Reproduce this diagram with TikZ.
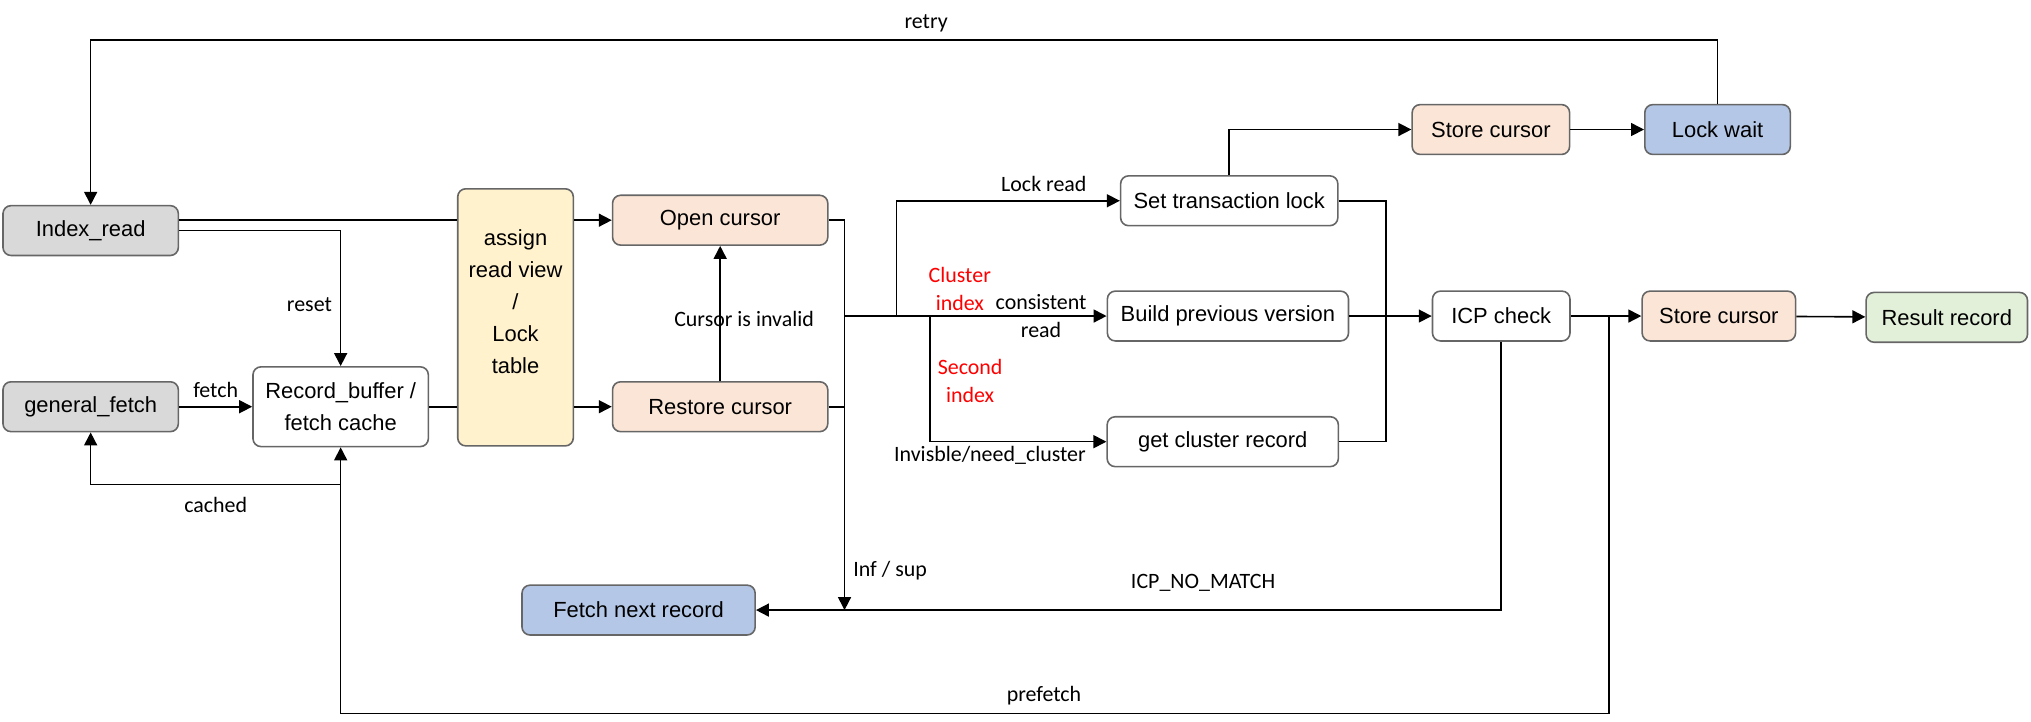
\documentclass[tikz,border=0pt]{standalone}
\usepackage{fontspec}
\setmainfont{Liberation Sans}
\newfontfamily\lblfont{Carlito}
\usetikzlibrary{arrows.meta, positioning}

\definecolor{boxgray}{HTML}{D9D9D9}
\definecolor{boxline}{HTML}{666666}
\definecolor{boxpeach}{HTML}{FBE5D6}
\definecolor{boxyellow}{HTML}{FFF2CC}
\definecolor{boxblue}{HTML}{B4C7E7}
\definecolor{boxgreen}{HTML}{E2F0D9}

\tikzset{
  box/.style={draw=boxline, line width=0.8pt, rounded corners=4pt, minimum height=25pt,
    inner sep=2pt, align=center, font=\fontsize{11}{16}\selectfont},
  lbl/.style={font=\lblfont\fontsize{11}{14}\selectfont, align=center, inner sep=1pt},
  redlbl/.style={lbl, text=red},
  arr/.style={-{Triangle[length=6.5pt, width=6.5pt]}, line width=0.8pt},
  wire/.style={line width=0.8pt},
}

\begin{document}
\begin{tikzpicture}[x=0.65pt, y=-0.65pt]
    \useasboundingbox (0,0) rectangle (1568,557);

    % left column
    \node[box, fill=boxgray, minimum width=88pt] (idx) at (70,178) {Index\_read};
    \node[box, fill=boxgray, minimum width=88pt] (genfetch) at (70,314) {general\_fetch};
    \node[box, fill=white, minimum width=88pt, minimum height=40pt] (recbuf) at (263,314) {Record\_buffer /\\fetch cache};
    \node[box, fill=boxyellow, minimum width=58pt, minimum height=129pt] (assign) at (398,245) {assign\\read view\\/\\Lock\\table\\\mbox{}};

    % cursors
    \node[box, fill=boxpeach, minimum width=108pt] (opencur) at (556,170) {Open cursor};
    \node[box, fill=boxpeach, minimum width=108pt] (restcur) at (556,314) {Restore cursor};
    \node[box, fill=boxblue, minimum width=117pt] (fetchnext) at (493,471) {Fetch next record};

    % record access
    \node[box, fill=white, minimum width=109pt] (setlock) at (949,155) {Set transaction lock};
    \node[box, fill=white, minimum width=121pt] (buildprev) at (948,244) {Build previous version};
    \node[box, fill=white, minimum width=116pt] (getclu) at (944,341) {get cluster record};
    \node[box, fill=boxpeach, minimum width=79pt] (storetop) at (1151,100) {Store cursor};
    \node[box, fill=boxblue, minimum width=73pt] (lockwait) at (1326,100) {Lock wait};
    \node[box, fill=white, minimum width=69pt] (icp) at (1159,244) {ICP check};
    \node[box, fill=boxpeach, minimum width=77pt] (storecur) at (1327,244) {Store cursor};
    \node[box, fill=boxgreen, minimum width=81pt] (result) at (1503,245) {Result record};

    % junctions
    \coordinate (top) at (0,31);
    \coordinate (cachedpt) at (263,374);
    \coordinate (prefetchpt) at (1242,244);
    \coordinate (bottom) at (0,551);
    \coordinate (infsup) at (652,471);
    \coordinate (split) at (652,244);
    \coordinate (lockfork) at (692,244);
    \coordinate (secfork) at (718,244);
    \coordinate (collect) at (1070,244);

    \draw[arr] (lockwait.north) -- (lockwait.north |- top) -- (idx.north |- top) -- (idx.north);
    \node[lbl] (retrylbl) at (715,18) {retry};

    \draw[wire] (idx.east |- opencur) -- (assign.west |- opencur);
    \draw[arr] (assign.east |- opencur) -- (opencur);
    \draw[arr] (idx.east) -| (recbuf.north) node[lbl, pos=0.75, left=3pt, yshift=-3pt] {reset};
    \draw[arr] (genfetch) -- node[lbl, above=3pt] {fetch} (recbuf);
    \draw[wire] (recbuf) -- (assign.west |- recbuf);
    \draw[arr] (assign.east |- restcur) -- (restcur);
    \draw[arr] (cachedpt) -| (genfetch.south) node[lbl, pos=0.25, below=5pt] {cached};
    \draw[arr] (prefetchpt) -- (prefetchpt |- bottom) -| (recbuf.south);
    \node[lbl] (prefetchlbl) at (806,537) {prefetch};

    \draw[arr] (restcur) -- node[lbl, xshift=12pt, yshift=-3pt] {Cursor is invalid} (opencur);
    \draw[arr] (opencur.east) -| (infsup) node[lbl, pos=0.95, right=3pt] {Inf / sup};
    \draw[wire] (restcur.east) -- (restcur.east -| infsup);

    \draw[arr] (split) -- node[lbl, pos=0.75] {consistent\\read} (buildprev.west);
    \draw[arr] (lockfork) |- (setlock.west) node[lbl, pos=0.83, above=3pt] {Lock read};
    \draw[arr] (secfork) |- (getclu.west) node[lbl, pos=0.67, below=1pt] {Invisble/need\_cluster};
    \node[redlbl] (cluidx) at (741,223) {Cluster\\index};
    \node[redlbl] (secidx) at (749,294) {Second\\index};

    \draw[arr] (setlock.north) |- (storetop.west);
    \draw[arr] (storetop) -- (lockwait);
    \draw[wire] (setlock.east) -| (collect);
    \draw[wire] (getclu.east) -| (collect);
    \draw[wire] (buildprev.east) -- (collect);
    \draw[arr] (collect) -- (icp.west);
    \draw[arr] (icp) -- (storecur);
    \draw[arr] (storecur) -- (result);
    \draw[arr] (icp.south) |- (fetchnext.east) node[lbl, pos=0.7, above=8pt] {ICP\_NO\_MATCH};
\end{tikzpicture}
\end{document}
